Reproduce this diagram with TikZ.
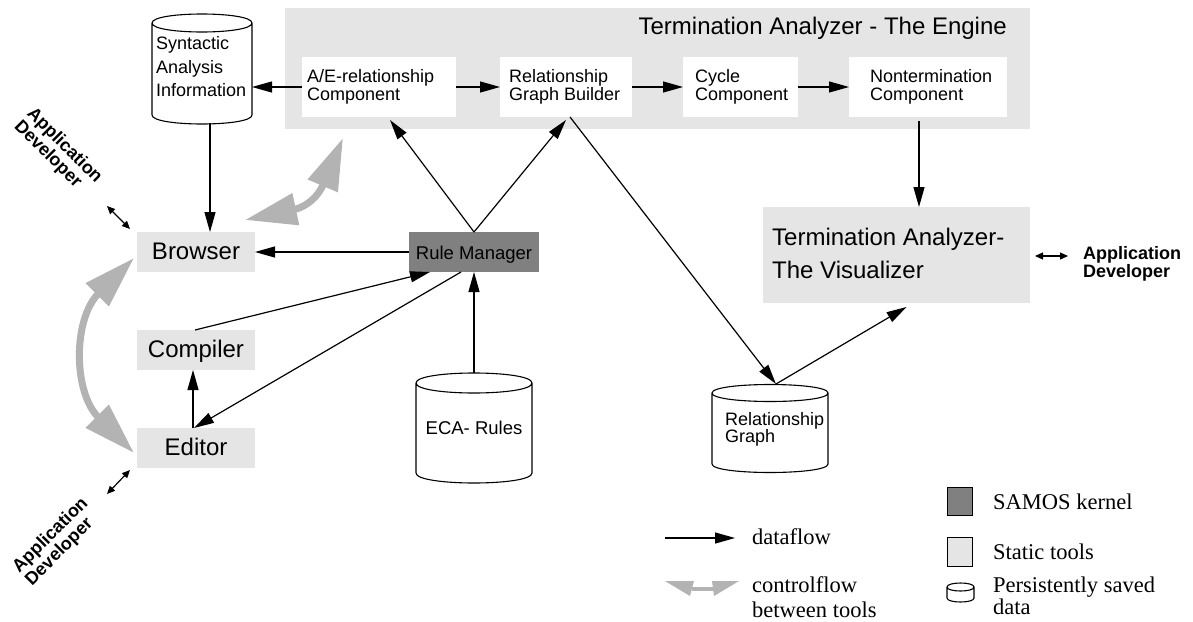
\documentclass[tikz,border=0pt]{standalone}
\usepackage{fontspec}
\setmainfont{Liberation Sans}
\newfontfamily\lserif{Liberation Serif}
\usetikzlibrary{arrows.meta,calc}
\definecolor{lg}{HTML}{E5E5E5}
\definecolor{dg}{HTML}{808080}
\definecolor{cfg}{HTML}{B3B3B3}
\newcommand\fs[2]{\fontsize{#1}{#2}\selectfont}
% cylinder outline: x1, x2, y of top ellipse centre, y of bottom ellipse centre, ry
\newcommand\dbshape[5]{%
  \draw[line width=1.1pt, fill=white] (#1,#3) -- (#1,#4)
    .. controls (#1,{#4+1.333*#5}) and (#2,{#4+1.333*#5}) .. (#2,#4) -- (#2,#3)
    .. controls (#2,{#3-1.333*#5}) and (#1,{#3-1.333*#5}) .. (#1,#3)
    .. controls (#1,{#3+1.333*#5}) and (#2,{#3+1.333*#5}) .. (#2,#3);}
\begin{document}
\begin{tikzpicture}[x=1pt,y=-1pt,
  lbox/.style={fill=lg, inner sep=0pt, outer sep=0pt},
  wbox/.style={fill=white, inner sep=0pt, outer sep=0pt, minimum height=60pt},
  tool/.style={fill=lg, inner sep=0pt, outer sep=0pt, minimum width=118pt, minimum height=40pt,
    text height=16pt, text depth=2pt, font=\fs{24}{28}},
  hidden/.style={inner sep=0pt, outer sep=0pt},
  small/.style={font=\fs{18}{18}, align=left, inner sep=0pt},
  dev/.style={font=\bfseries\fs{18}{18}, align=left, inner sep=0pt},
  leg/.style={font=\lserif\fs{22.5}{17}, align=left, inner sep=0pt, anchor=base west},
  df/.style={line width=1.2pt, -{Triangle[length=20pt,width=11pt]}},
  sm/.style={line width=1.2pt, {Triangle[length=8pt,width=7pt]}-{Triangle[length=8pt,width=7pt]}},
  cf/.style={draw=cfg, line width=7pt, {Triangle[length=52pt,width=31pt]}-{Triangle[length=52pt,width=31pt]}},
]
\useasboundingbox (0,0) rectangle (1193,621);

% ---------- Engine ----------
\node[lbox, minimum width=745pt, minimum height=121pt] (engine) at (657.5,68.5) {};
\node[font=\fs{24}{28}, inner sep=0pt, anchor=base east] (enginetitle) at (1007,34) {Termination Analyzer - The Engine};
\node[wbox, minimum width=154pt] (ae) at (379,87) {};
\node[wbox, minimum width=132pt] (rgb) at (566,87) {};
\node[wbox, minimum width=115pt] (cyc) at (740.5,87) {};
\node[wbox, minimum width=158pt] (nt) at (928,87) {};
\node[small, anchor=west] (aet) at (307,87) {A/E-relationship\\Component};
\node[small, anchor=west] (rgbt) at (509,87) {Relationship\\Graph Builder};
\node[small, anchor=west] (cyct) at (695,87) {Cycle\\Component};
\node[small, anchor=west] (ntt) at (870,87) {Nontermination\\Component};

% ---------- Cylinders ----------
\dbshape{152}{252}{23}{115}{9}
\node[hidden, minimum width=100pt, minimum height=109pt] (synt) at (202,68.5) {};
\node[small, font=\fs{18}{23.5}, anchor=west] (syntt) at (156,67) {Syntactic\\Analysis\\Information};

\dbshape{416}{532}{383}{473}{10}
\node[hidden, minimum width=116pt, minimum height=110pt] (eca) at (474,428) {};
\node[font=\fs{18.5}{18}, inner sep=0pt, anchor=base] (ecat) at (474,434) {ECA- Rules};

\dbshape{712}{828}{393}{464}{8.5}
\node[hidden, minimum width=116pt, minimum height=87pt] (rg) at (770,428.5) {};
\node[small, font=\fs{18}{17}, anchor=west] (rgt) at (725,429) {Relationship\\Graph};

% ---------- Tools ----------
\node[tool] (browser) at (196,252) {Browser};
\node[tool] (compiler) at (196,350) {Compiler};
\node[tool] (editor) at (196,448) {Editor};
\node[fill=dg, inner sep=0pt, outer sep=0pt, minimum width=130pt, minimum height=40pt,
  text height=16pt, text depth=2pt, font=\fs{18.5}{18}] (rm) at (474,252) {Rule Manager};
\node[lbox, minimum width=267pt, minimum height=96pt] (vis) at (896.5,255) {};
\node[font=\fs{24}{33}, align=left, inner sep=0pt, anchor=west] (vist) at (772,253) {Termination Analyzer-\\The Visualizer};

% ---------- Application developers ----------
\node[dev, anchor=west] (dev3) at (1083,264) {Application\\Developer};
\node[dev, rotate=-45] (dev1) at (58,152) {Application\\Developer};
\node[dev, rotate=45] (dev2) at (57,542) {Application\\Developer};
\coordinate (d1a) at (107,206); \coordinate (d1b) at (130,229);
\coordinate (d2a) at (107,494); \coordinate (d2b) at (130,470);
\coordinate (d3a) at (1068,256); \coordinate (d3b) at (1035,256);
\draw[sm] (d1a) -- (d1b);
\draw[sm] (d2a) -- (d2b);
\draw[sm] (d3a) -- (d3b);

% ---------- Dataflow ----------
\draw[df] (ae.west) -- (ae.west -| synt.east);
\draw[df] (ae.east) -- (rgb.west);
\draw[df] (rgb.east) -- (cyc.west);
\draw[df] (cyc.east) -- (nt.west);
\draw[df] ([xshift=8pt]synt.south) -- ([xshift=14pt]browser.north);
\draw[df] (rm.west) -- (browser.east);
\draw[df] ([xshift=-1pt]compiler.north) -- ([xshift=21pt]rm.south west);
\draw[df] ([xshift=52pt]rm.south west) -- ([xshift=-2pt]editor.north);
\draw[df] ([xshift=-3pt]editor.north) -- ([xshift=-3pt]compiler.south);
\draw[df] (eca.north) -- (rm.south);
\draw[df] (rm.north) -- ([xshift=11pt,yshift=-3pt]ae.south);
\draw[df] (rm.north) -- ([yshift=-3pt]rgb.south);
\draw[df] ([xshift=4pt]rgb.south) -- ([xshift=6pt,yshift=1pt]rg.north);
\draw[df] ([xshift=6pt,yshift=1pt]rg.north) -- ([xshift=10pt,yshift=-4pt]vis.south);
\coordinate (ntb) at ([xshift=-9pt,yshift=-4pt]nt.south);
\draw[df] (ntb) -- (ntb |- vis.north);

% ---------- Controlflow ----------
\coordinate (cfa) at (245,220); \coordinate (cfb) at (343,138);
\draw[cf] (cfa) .. controls (306,207) and (318,197) .. (cfb);
\coordinate (cfc) at (134,258); \coordinate (cfd) at (134,453);
\draw[cf] (cfc) .. controls (73,319) and (73,392) .. (cfd);

% ---------- Legend ----------
\coordinate (la) at (665,538); \coordinate (lb) at (735,538);
\draw[df] (la) -- (lb);
\node[leg] (ldf) at (752,544) {dataflow};
\fill[cfg] (665,581) -- (694,581) -- (690,596) -- cycle;
\fill[cfg] (739,581) -- (712,581) -- (714,596) -- cycle;
\fill[cfg] (692,587) rectangle (714,591);
\node[leg, font=\lserif\fs{22.5}{25}] (lcf) at (752,617) {controlflow\\between tools};
\node[draw, line width=0.8pt, fill=dg, minimum width=25pt, minimum height=28pt, inner sep=0pt] (lsam) at (959.5,501) {};
\node[leg] (lsamt) at (993,509) {SAMOS kernel};
\node[draw, line width=0.8pt, fill=lg, minimum width=25pt, minimum height=29pt, inner sep=0pt] (lst) at (959.5,551.5) {};
\node[leg] (lstt) at (993,559) {Static tools};
\dbshape{947}{974}{587}{598}{4}
\node[leg] (lpt) at (993,614) {Persistently saved\\data};
\end{tikzpicture}
\end{document}
